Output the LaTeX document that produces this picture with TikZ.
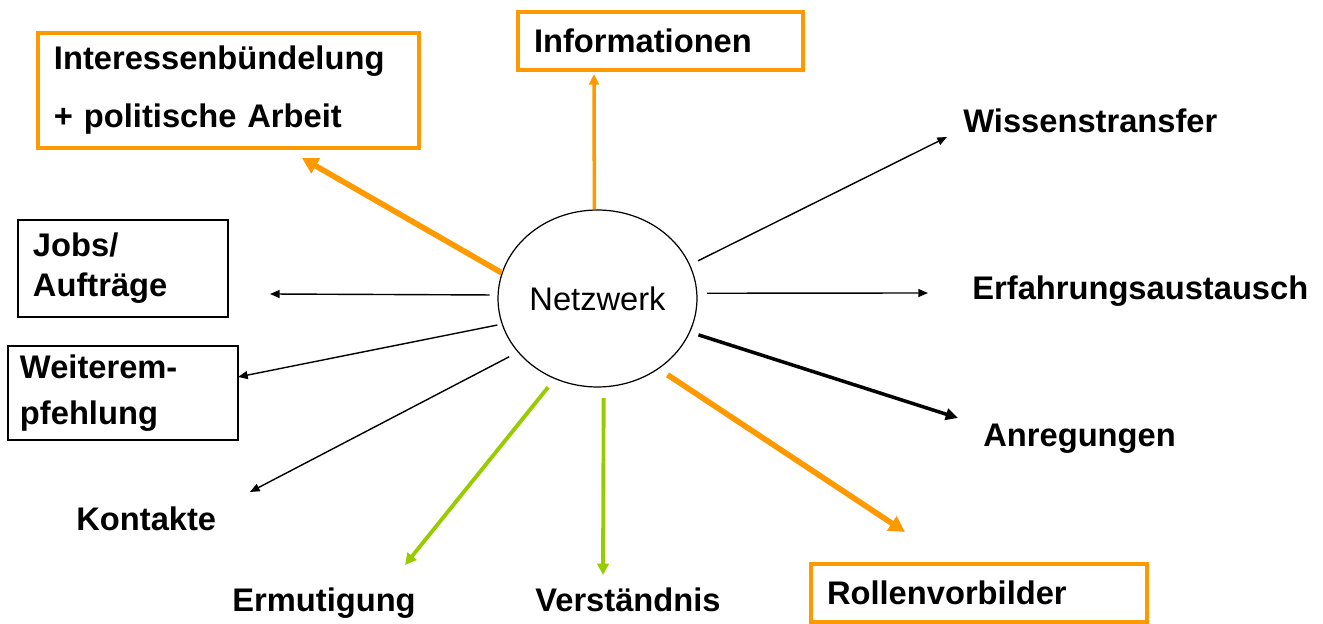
\documentclass[tikz,border=0pt]{standalone}
\usepackage{fontspec}
\setmainfont{Liberation Sans}
\usetikzlibrary{arrows.meta,shapes.geometric}
\definecolor{orng}{HTML}{FF9900}
\definecolor{grn}{HTML}{99CC00}

\begin{document}
\begin{tikzpicture}[x=0.02cm, y=-0.02cm,
    lbl/.style={font=\fontsize{18.6}{22}\selectfont\bfseries, inner sep=0, anchor=base west},
    bx/.style={draw=black, line width=0.8pt, anchor=north west, align=left, inner ysep=0, outer sep=0},
    obx/.style={bx, draw=orng, line width=2.2pt},
    thinarr/.style={black, line width=0.8pt, -{Triangle[length=5.5pt,width=4.5pt]}},
    thickarr/.style={black, line width=2pt, -{Triangle[length=7pt,width=6.5pt]}},
    orgarr/.style={orng, line width=3.2pt, -{Triangle[length=9pt,width=9.5pt]}},
    orgmid/.style={orng, line width=2pt, -{Triangle[length=6pt,width=5.5pt]}},
    grnarr/.style={grn, line width=2.2pt, -{Triangle[length=6.5pt,width=6.5pt]}}
]
    \useasboundingbox (0,0) rectangle (1323,624);

    % Centre
    \node[draw, ellipse, line width=0.7pt, minimum width=3.98cm, minimum height=3.54cm, inner sep=0,
          font=\fontsize{18.6}{22}\selectfont] (net) at (597.5,298.5) {Netzwerk};

    % Boxes
    \node[obx, inner xsep=0.32cm, text width=6.98cm, minimum height=2.30cm,
          font=\fontsize{18.6}{33}\selectfont\bfseries] (intr) at (38,33) {Interessenbündelung\\+ politische Arbeit};
    \node[obx, inner xsep=0.32cm, text width=5.06cm, minimum height=1.16cm,
          font=\fontsize{18.6}{22}\selectfont\bfseries] (info) at (518,12) {Informationen};
    \node[bx, inner xsep=0.30cm, text width=3.60cm, minimum height=1.94cm,
          font=\fontsize{18.6}{22.8}\selectfont\bfseries] (jobs) at (18,220) {Jobs/\\Aufträge};
    \node[bx, inner xsep=0.24cm, text width=4.12cm, minimum height=1.88cm,
          font=\fontsize{18.6}{26}\selectfont\bfseries] (weit) at (8,346) {Weiterem-\\pfehlung};
    \node[obx, inner xsep=0.32cm, text width=6.08cm, minimum height=1.16cm,
          font=\fontsize{18.6}{22}\selectfont\bfseries] (roll) at (811,564) {Rollenvorbilder};

    % Plain labels
    \node[lbl] (wiss) at (963,133) {Wissenstransfer};
    \node[lbl] (erf) at (972,300) {Erfahrungsaustausch};
    \node[lbl] (anr) at (983,447) {Anregungen};
    \node[lbl] (kont) at (76,531) {Kontakte};
    \node[lbl] (ermu) at (232,612) {Ermutigung};
    \node[lbl] (vers) at (535,612) {Verständnis};

    % Arrow tips
    \coordinate (intr-tip) at (302,158);
    \coordinate (info-tip) at (594,74);
    \coordinate (wiss-tip) at (947,137);
    \coordinate (erf-tip) at (928,293);
    \coordinate (anr-tip) at (958,418);
    \coordinate (roll-tip) at (905,532);
    \coordinate (vers-tip) at (603,575);
    \coordinate (ermu-tip) at (405,565);
    \coordinate (kont-tip) at (250,492);
    \coordinate (weit-tip) at (238,377);
    \coordinate (jobs-tip) at (270,294);

    % Arrows
    \draw[orgarr] (net.165) -- (intr-tip);
    \draw[orgmid] (net.92) -- (info-tip);
    \draw[thinarr, shorten <=5pt] (net.20) -- (wiss-tip);
    \draw[thinarr, shorten <=5.5pt] (net.3) -- (erf-tip);
    \draw[thickarr, shorten <=5pt] (net.-20.5) -- (anr-tip);
    \draw[orgarr, shorten <=6pt] (net.-49) -- (roll-tip);
    \draw[grnarr, shorten <=6pt] (net.-86.5) -- (vers-tip);
    \draw[grnarr, shorten <=6pt] (net.-118) -- (ermu-tip);
    \draw[thinarr, shorten <=5.5pt] (net.-146) -- (kont-tip);
    \draw[thinarr, shorten <=2.5pt] (net.-165) -- (weit-tip);
    \draw[thinarr, shorten <=4.5pt] (net.178) -- (jobs-tip);
\end{tikzpicture}
\end{document}
